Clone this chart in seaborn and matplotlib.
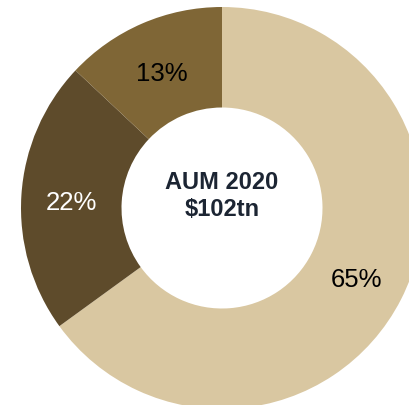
import matplotlib
matplotlib.use("Agg")
import matplotlib.pyplot as plt
import seaborn as sns
import numpy as np

# Data
labels = ["Segment A", "Segment B", "Segment C"]
shares = [65, 22, 13]
pct_labels = ["65%", "22%", "13%"]
colors = ["#D9C7A1", "#5E4B2B", "#7F6636"]
label_colors = ["black", "white", "black"]
center_text = "AUM 2020\n$102tn"

sns.set_theme(style="white")
plt.rcParams["font.family"] = ["Liberation Sans", "DejaVu Sans"]

fig = plt.figure(figsize=(4.1, 4.05), dpi=100)
# donut centre sits at about (222, 208) px with radius ~201 px
ax = fig.add_axes([21 / 410, -4 / 405, 402 / 410, 402 / 405])

wedges, texts = ax.pie(
    shares,
    colors=colors,
    startangle=90,
    counterclock=False,
    radius=1.0,
    wedgeprops=dict(width=0.5, edgecolor="none"),
)

# percentage labels in the middle of the ring
for w, txt, col in zip(wedges, pct_labels, label_colors):
    ang = np.deg2rad((w.theta1 + w.theta2) / 2)
    ax.text(0.75 * np.cos(ang), 0.75 * np.sin(ang) - 0.02, txt,
            ha="center", va="center", fontsize=18.5, color=col)

ax.text(0, 0.06, center_text, ha="center", va="center", fontsize=17,
        fontweight="bold", color="#1C2533", linespacing=1.25)

ax.set_xlim(-1, 1)
ax.set_ylim(-1, 1)
ax.set_aspect("equal")
ax.axis("off")

fig.savefig("out.png", dpi=100)
